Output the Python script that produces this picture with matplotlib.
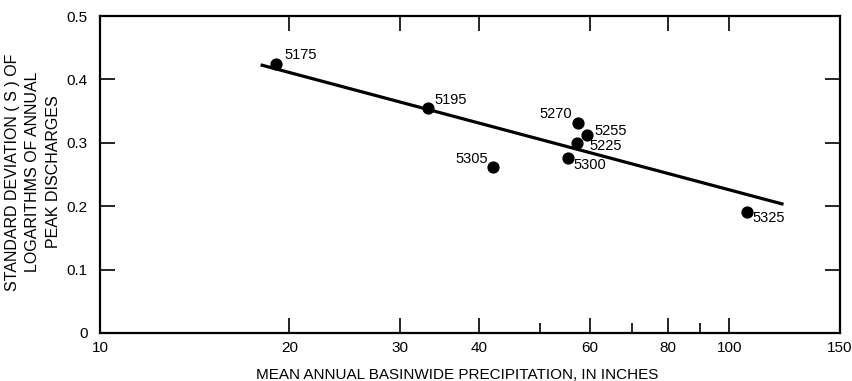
import matplotlib
matplotlib.use("Agg")
import matplotlib.pyplot as plt
from matplotlib.ticker import FixedLocator, FixedFormatter, NullFormatter

plt.rcParams['font.family'] = ['Liberation Sans', 'DejaVu Sans']

# Data
stations = ["5175", "5195", "5305", "5270", "5255", "5225", "5300", "5325"]
precip = [19.05, 33.2, 42.2, 57.5, 59.4, 57.3, 55.4, 106.6]
stdev = [0.424, 0.355, 0.262, 0.332, 0.313, 0.299, 0.276, 0.191]

# Regression line end points
line_x = [18.0, 122.0]
line_y = [0.423, 0.203]

xticks = [10, 20, 30, 40, 60, 80, 100, 150]
xtick_labels = ["10", "20", "30", "40", "60", "80", "100", "150"]
xminor = [50, 70, 90]
yticks = [0, 0.1, 0.2, 0.3, 0.4, 0.5]
ytick_labels = ["0", "0.1", "0.2", "0.3", "0.4", "0.5"]

# label offsets in pixels (dx, dy) and horizontal alignment
label_offsets = {
    "5175": (8, 9, "left"),
    "5195": (7, 8, "left"),
    "5305": (-5, 8, "right"),
    "5270": (-6, 9, "right"),
    "5255": (8, 4, "left"),
    "5225": (12, -3, "left"),
    "5300": (6, -7, "left"),
    "5325": (6, -6, "left"),
}

fig = plt.figure(figsize=(8.52, 3.81), dpi=100)
ax = fig.add_axes([100/852, 1-333/381, 740/852, 317/381])

ax.set_xscale("log")
ax.set_xlim(10, 150)
ax.set_ylim(0, 0.5)

ax.plot(line_x, line_y, color="black", lw=2.3, solid_capstyle="butt")
ax.plot(precip, stdev, "o", color="black", ms=7.8, zorder=3)

for name, x, y in zip(stations, precip, stdev):
    dx, dy, ha = label_offsets[name]
    ax.annotate(name, (x, y), xytext=(dx, dy), textcoords="offset pixels",
                ha=ha, va="center", fontsize=10.5)

ax.xaxis.set_major_locator(FixedLocator(xticks))
ax.xaxis.set_major_formatter(FixedFormatter(xtick_labels))
ax.xaxis.set_minor_locator(FixedLocator(xminor))
ax.xaxis.set_minor_formatter(NullFormatter())
ax.yaxis.set_major_locator(FixedLocator(yticks))
ax.yaxis.set_major_formatter(FixedFormatter(ytick_labels))

ax.tick_params(which="major", direction="in", length=11, width=1.2,
               top=True, right=True, labelsize=11)
ax.tick_params(axis="x", which="major", pad=6)
ax.tick_params(axis="y", which="major", pad=9)
ax.tick_params(which="minor", direction="in", length=7, width=1.2,
               top=False, right=False)
for s in ax.spines.values():
    s.set_linewidth(1.6)

fig.text(457/852, 1-375/381, "MEAN ANNUAL BASINWIDE PRECIPITATION, IN INCHES",
         ha="center", va="center", fontsize=11)
fig.text(33/852, 1-172/381,
         "STANDARD DEVIATION ( S ) OF\nLOGARITHMS OF ANNUAL\nPEAK DISCHARGES",
         rotation=90, ha="center", va="center", multialignment="center",
         fontsize=11.5, linespacing=1.45)

fig.savefig("out.png", dpi=100)
